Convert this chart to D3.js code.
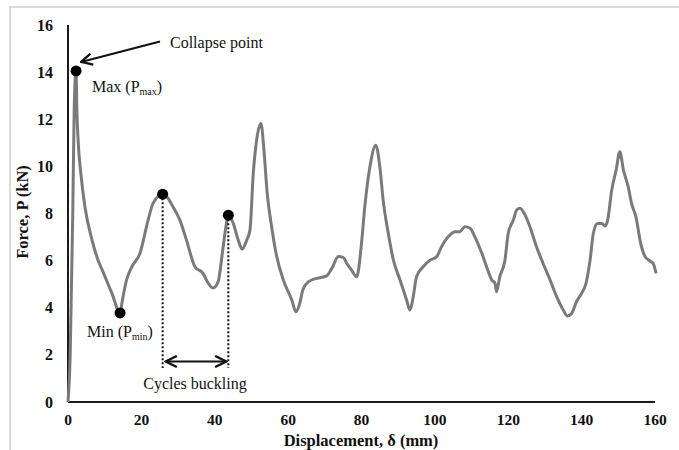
<!DOCTYPE html>
<html>
<head>
<meta charset="utf-8">
<script src="https://cdn.jsdelivr.net/npm/d3@7"></script>
<style>
  body { margin: 0; background: #fff; }
  svg text { font-family: "Liberation Serif", "Times New Roman", serif; fill: #111; }
</style>
</head>
<body>
<div id="chart"></div>
<script>
// force-displacement curve
var disp = [0, 0.6, 1.3, 1.7, 2.2, 2.4, 2.8, 3.5, 4.6, 6.5, 8.0, 9.6, 12.0, 14.2, 14.8, 16.0, 17.4, 19.6, 21.8, 23.2, 25.8, 27.0,
  28.6, 30.5, 32.3, 34.6, 36.8, 38.0, 39.5, 40.9, 42.3, 43.2, 43.7, 45.0, 46.4, 47.5, 48.7, 49.6, 50.5, 51.4, 52.6, 53.4,
  54.3, 55.5, 56.9, 58.7, 61.0, 62.1, 63.2, 64.0, 65.5, 67.8, 70.5, 71.9, 73.7, 75.0, 76.0, 77.3, 78.7, 80.0, 80.9, 82.3,
  83.9, 85.0, 85.9, 87.3, 88.7, 90.5, 92.3, 93.2, 94.1, 95.0, 96.8, 98.7, 100.5, 101.8, 103.6, 105.5, 106.8, 108.2, 109.6, 110.9,
  112.8, 114.1, 115.5, 116.4, 116.8, 117.7, 119.1, 120.0, 121.4, 122.3, 123.2, 124.6, 125.9, 127.7, 129.5, 131.4, 133.2, 135.0, 136.1, 137.3,
  138.6, 140.0, 141.2, 142.3, 143.2, 144.3, 145.5, 146.4, 147.1, 148.2, 149.4, 150.4, 151.4, 152.7, 153.6, 154.8, 156.1, 157.3, 158.6, 159.5, 160.3];
var force = [0, 2, 8, 12.5, 14.05, 12.5, 11, 9.7, 8.3, 6.9, 6.1, 5.5, 4.6, 3.78, 4.3, 5.2, 5.74, 6.3, 7.7, 8.44, 8.82, 8.7,
  8.29, 7.72, 6.87, 5.74, 5.46, 5.1, 4.84, 5.1, 6.6, 7.6, 7.93, 7.6, 6.87, 6.49, 6.87, 7.3, 9.7, 11.1, 11.82, 10.7,
  8.85, 7.44, 6.17, 5.18, 4.33, 3.83, 4.2, 4.75, 5.1, 5.25, 5.35, 5.67, 6.17, 6.14, 5.88, 5.6, 5.32, 6.73, 8.29, 9.98,
  10.9, 9.98, 8.57, 7.16, 6.02, 5.18, 4.33, 3.9, 4.47, 5.32, 5.74, 6.02, 6.17, 6.59, 7.01, 7.23, 7.23, 7.44, 7.37, 7.01,
  6.31, 5.74, 5.18, 5.04, 4.68, 5.32, 6.02, 7.16, 7.72, 8.15, 8.22, 7.93, 7.44, 6.59, 5.88, 5.18, 4.47, 3.9, 3.65, 3.76,
  4.26, 4.61, 5.04, 6.02, 7.16, 7.58, 7.58, 7.47, 7.72, 8.99, 9.84, 10.62, 9.84, 9.13, 8.43, 7.86, 6.73, 6.17, 5.99, 5.88, 5.46];

// marked points: max, min, two buckling peaks
var markX = [2.2, 14.2, 25.8, 43.7];
var markY = [14.05, 3.78, 8.82, 7.93];

var xTicks = [0, 20, 40, 60, 80, 100, 120, 140, 160];
var yTicks = [0, 2, 4, 6, 8, 10, 12, 14, 16];

var W = 679, H = 450;
var svg = d3.select("#chart").append("svg").attr("width", W).attr("height", H);

// light frame (only top and left edges show)
svg.append("path").attr("d", "M10 " + H + " L10 7 L" + W + " 7")
  .attr("fill", "none").attr("stroke", "#cfcfcf").attr("stroke-width", 1.5);

var x = d3.scaleLinear().domain([0, 160]).range([68, 655]);
var y = d3.scaleLinear().domain([0, 16]).range([402, 25]);

// axes lines
svg.append("line").attr("x1", x(0)).attr("x2", x(160)).attr("y1", y(0)).attr("y2", y(0))
  .attr("stroke", "#1a1a1a").attr("stroke-width", 2);
svg.append("line").attr("x1", x(0)).attr("x2", x(0)).attr("y1", y(0)).attr("y2", y(16))
  .attr("stroke", "#1a1a1a").attr("stroke-width", 2);

svg.selectAll(".yt").data(yTicks).enter().append("text")
  .attr("x", 53).attr("y", function(d){ return y(d); })
  .attr("dy", "0.35em").attr("text-anchor", "end")
  .style("font-size", "16px").style("font-weight", "bold")
  .text(function(d){ return d; });

svg.selectAll(".xt").data(xTicks).enter().append("text")
  .attr("x", function(d){ return x(d); }).attr("y", 420)
  .attr("dy", "0.35em").attr("text-anchor", "middle")
  .style("font-size", "15.5px").style("font-weight", "bold")
  .text(function(d){ return d; });

svg.append("text").attr("x", 361).attr("y", 440).attr("dy", "0.35em")
  .attr("text-anchor", "middle").style("font-size", "16.5px").style("font-weight", "bold")
  .text("Displacement, δ (mm)");

svg.append("text").attr("transform", "translate(22,212) rotate(-90)").attr("dy", "0.35em")
  .attr("text-anchor", "middle").style("font-size", "16.5px").style("font-weight", "bold")
  .text("Force, P (kN)");

// curve
var pts = disp.map(function(d, i){ return [d, force[i]]; });
var line = d3.line().curve(d3.curveMonotoneX)
  .x(function(d){ return x(d[0]); }).y(function(d){ return y(d[1]); });
svg.append("path").datum(pts).attr("d", line)
  .attr("fill", "none").attr("stroke", "#7a7a7a").attr("stroke-width", 3)
  .attr("stroke-linejoin", "round");

// dotted drop lines + cycle arrow
var yLow = 368;
[2, 3].forEach(function(i){
  svg.append("line").attr("x1", x(markX[i])).attr("x2", x(markX[i]))
    .attr("y1", y(markY[i])).attr("y2", yLow)
    .attr("stroke", "#111").attr("stroke-width", 2).attr("stroke-dasharray", "2,2");
});

var defs = svg.append("defs");
defs.append("marker").attr("id", "ah").attr("viewBox", "0 0 10 10")
  .attr("refX", 9).attr("refY", 5).attr("markerWidth", 7).attr("markerHeight", 7)
  .attr("orient", "auto-start-reverse")
  .append("path").attr("d", "M1 1 L9 5 L1 9").attr("fill", "none").attr("stroke", "#111").attr("stroke-width", 1.6);

svg.append("line").attr("x1", x(markX[2]) + 3).attr("x2", x(markX[3]) - 2)
  .attr("y1", 361.5).attr("y2", 361.5)
  .attr("stroke", "#111").attr("stroke-width", 2)
  .attr("marker-start", "url(#ah)").attr("marker-end", "url(#ah)");

svg.append("text").attr("x", 195).attr("y", 383).attr("dy", "0.35em")
  .attr("text-anchor", "middle").style("font-size", "16px").text("Cycles buckling");

// collapse arrow
svg.append("line").attr("x1", 160).attr("y1", 41.5).attr("x2", x(markX[0]) + 5).attr("y2", y(markY[0]) - 9)
  .attr("stroke", "#111").attr("stroke-width", 2).attr("marker-end", "url(#ah)");
svg.append("text").attr("x", 170).attr("y", 42).attr("dy", "0.35em")
  .style("font-size", "16px").text("Collapse point");

// dots
svg.selectAll(".dot").data(markX).enter().append("circle")
  .attr("cx", function(d){ return x(d); })
  .attr("cy", function(d, i){ return y(markY[i]); })
  .attr("r", 5.5).attr("fill", "#000");

// labels with subscripts
var tMax = svg.append("text").attr("x", 92).attr("y", 92).style("font-size", "16px");
tMax.append("tspan").text("Max (P");
tMax.append("tspan").attr("dy", 3).style("font-size", "10px").text("max");
tMax.append("tspan").attr("dy", -3).text(")");

var tMin = svg.append("text").attr("x", 87).attr("y", 337).style("font-size", "16px");
tMin.append("tspan").text("Min (P");
tMin.append("tspan").attr("dy", 3).style("font-size", "10px").text("min");
tMin.append("tspan").attr("dy", -3).text(")");
</script>
</body>
</html>
